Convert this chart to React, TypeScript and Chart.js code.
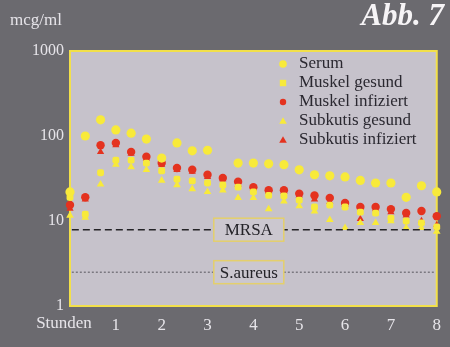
import { useEffect, useRef } from 'react';
import { Chart, registerables } from 'chart.js';
Chart.register(...registerables);

const TIMES_MIN = [0, 20, 40, 60, 80, 100, 120, 140, 160, 180, 200, 220, 240, 260, 280, 300, 320, 340, 360, 380, 400, 420, 440, 460, 480];
const SERIES_NAMES = ['Serum', 'Muskel gesund', 'Muskel infiziert', 'Subkutis gesund', 'Subkutis infiziert'];
const SERUM = [22, 100, 155, 118, 108, 92, 55, 83, 67, 68, null, 48, 48, 47, 46, 40, 35, 34, 33, 30, 28, 28, 19, 26, 22];
const MUSKEL_GES = [19, 12, 37, 52, 52, 48, 39, 31, 29.6, 28, 26.5, 25, 22, 20, 19.7, 17.6, 14.6, 15.4, 14.6, 12.7, 12.4, 10.8, 10, 9.5, 8.5];
const MUSKEL_INF = [15.4, 19, 78, 83, 65, 57, 48, 42, 40, 35, 32, 29, 25, 23, 23, 21, 20, 18.7, 16.3, 14.6, 14.6, 13.8, 12.4, 13.1, 11.4];
const SUBKUTIS_GES = [11.6, 11, 27, 46, 43, 40, 30, 26.5, 23.8, 22, 23, 18.7, 18.7, 13.8, 17, 15, 13, 10.3, 8.3, 9.5, 9.5, 10, 8.3, 8.3, 7.5];
const SUBKUTIS_INF = [14, 18, 65, 78, 62, 54, 46, 40, 38, 33, 31, 27, 24, 22, 22, 20, 18, 16.8, 15.5, 10.6, 13.8, 12.7, 11.6, 10, 9];
const X_TICKS = [1, 2, 3, 4, 5, 6, 7, 8];
const Y_TICKS = [1, 10, 100, 1000];
const REF_LABELS = ['MRSA', 'S.aureus'];
const REF_VALUES = [7.9, 2.5];
const X_LABEL = 'Stunden';
const Y_LABEL = 'mcg/ml';
const TITLE = 'Abb. 7';

const YELLOW = '#f8ea3a';
const RED = '#e4321f';
const FONT = '"Liberation Serif", "Times New Roman", serif';

const STYLES = [
  { color: YELLOW, style: 'circle', r: 4.6 },
  { color: YELLOW, style: 'rectRounded', r: 4 },
  { color: RED, style: 'circle', r: 4.2 },
  { color: YELLOW, style: 'triangle', r: 4.4 },
  { color: RED, style: 'triangle', r: 4.2 },
];

function toPoints(vals: (number | null)[]) {
  return vals.map((v, i) => ({ x: TIMES_MIN[i] / 60, y: v }));
}

export default function App() {
  const ref = useRef<HTMLCanvasElement>(null);
  useEffect(() => {
    const canvas = ref.current!;
    const series = [SERUM, MUSKEL_GES, MUSKEL_INF, SUBKUTIS_GES, SUBKUTIS_INF];
    const datasets: any[] = series.map((s, k) => ({
      label: SERIES_NAMES[k],
      data: toPoints(s),
      pointStyle: STYLES[k].style,
      pointRadius: STYLES[k].r,
      backgroundColor: STYLES[k].color,
      borderColor: STYLES[k].color,
      borderWidth: 0,
      showLine: false,
      clip: false,
    }));
    datasets.unshift(
      {
        label: REF_LABELS[0],
        data: [{ x: 0.04, y: REF_VALUES[0] }, { x: 7.96, y: REF_VALUES[0] }],
        showLine: true,
        pointRadius: 0,
        borderColor: '#242327',
        borderWidth: 1.5,
        borderDash: [7, 4],
      },
      {
        label: REF_LABELS[1],
        data: [{ x: 0.04, y: REF_VALUES[1] }, { x: 7.96, y: REF_VALUES[1] }],
        showLine: true,
        pointRadius: 0,
        borderColor: '#56555c',
        borderWidth: 1,
        borderDash: [2, 2],
      }
    );

    const deco = {
      id: 'deco',
      beforeDraw(chart: any) {
        const { ctx, chartArea: a } = chart;
        ctx.save();
        ctx.fillStyle = '#6b6a6f';
        ctx.fillRect(0, 0, chart.width, chart.height);
        ctx.fillStyle = '#c6c2cb';
        ctx.fillRect(a.left, a.top, a.right - a.left, a.bottom - a.top);
        ctx.strokeStyle = '#f2e04a';
        ctx.lineWidth = 2;
        ctx.strokeRect(a.left, a.top, a.right - a.left, a.bottom - a.top);
        ctx.fillStyle = '#e6e4e9';
        ctx.font = `17px ${FONT}`;
        ctx.textBaseline = 'middle';
        ctx.textAlign = 'left';
        ctx.fillText(Y_LABEL, 10, 21);
        ctx.textAlign = 'center';
        ctx.fillText(X_LABEL, 64, 324);
        ctx.fillStyle = '#f6f4f6';
        ctx.font = `italic bold 31px ${FONT}`;
        ctx.textAlign = 'right';
        ctx.fillText(TITLE, 444, 17);
        ctx.restore();
      },
      afterDatasetsDraw(chart: any) {
        const { ctx } = chart;
        const xs = chart.scales.x;
        const ys = chart.scales.y;
        ctx.save();
        REF_LABELS.forEach((lab, k) => {
          const cx = xs.getPixelForValue(3.9);
          const cy = ys.getPixelForValue(REF_VALUES[k]);
          const w = 70, h = 23;
          ctx.fillStyle = '#cbc7cf';
          ctx.fillRect(cx - w / 2, cy - h / 2, w, h);
          ctx.strokeStyle = '#e4cf6c';
          ctx.lineWidth = 1.5;
          ctx.strokeRect(cx - w / 2, cy - h / 2, w, h);
          ctx.fillStyle = '#242328';
          ctx.font = `17px ${FONT}`;
          ctx.textAlign = 'center';
          ctx.textBaseline = 'middle';
          ctx.fillText(lab, cx, cy + 1);
        });
        SERIES_NAMES.forEach((name, k) => {
          const y = 64 + k * 19;
          const mx = 283;
          const st = STYLES[k];
          ctx.fillStyle = st.color;
          ctx.beginPath();
          if (st.style === 'circle') {
            ctx.arc(mx, y, k === 0 ? 3.8 : 3.2, 0, Math.PI * 2);
          } else if (st.style === 'triangle') {
            ctx.moveTo(mx, y - 3.8);
            ctx.lineTo(mx + 3.8, y + 2.8);
            ctx.lineTo(mx - 3.8, y + 2.8);
            ctx.closePath();
          } else {
            ctx.rect(mx - 3.2, y - 3.2, 6.4, 6.4);
          }
          ctx.fill();
          ctx.fillStyle = '#2a2830';
          ctx.font = `17px ${FONT}`;
          ctx.textAlign = 'left';
          ctx.textBaseline = 'middle';
          ctx.fillText(name, 299, y);
        });
        ctx.restore();
      },
    };

    const chart = new Chart(canvas, {
      type: 'scatter',
      data: { datasets },
      plugins: [deco],
      options: {
        animation: false,
        responsive: false,
        layout: { padding: { top: 51, right: 7, bottom: 0, left: 0 } },
        plugins: { legend: { display: false }, tooltip: { enabled: false } },
        scales: {
          x: {
            type: 'linear',
            min: 0,
            max: 8,
            grid: { display: false, drawTicks: false },
            border: { display: false },
            afterBuildTicks: (s: any) => { s.ticks = X_TICKS.map((v) => ({ value: v })); },
            afterFit: (s: any) => { s.height = 41; },
            ticks: {
              color: '#e6e4e9',
              font: { family: FONT, size: 17 },
              padding: 9,
              maxRotation: 0,
              autoSkip: false,
            },
          },
          y: {
            type: 'logarithmic',
            min: 1,
            max: 1000,
            grid: { display: false, drawTicks: false },
            border: { display: false },
            afterBuildTicks: (s: any) => { s.ticks = Y_TICKS.map((v) => ({ value: v })); },
            afterFit: (s: any) => { s.width = 70; },
            ticks: {
              color: '#e6e4e9',
              font: { family: FONT, size: 16 },
              padding: 6,
              autoSkip: false,
              callback: (v: any) => String(v),
            },
          },
        },
      } as any,
    });
    return () => chart.destroy();
  }, []);
  return (
    <div style={{ position: 'absolute', left: 0, top: 0, width: 450, height: 347 }}>
      <canvas ref={ref} width={450} height={347} />
    </div>
  );
}
